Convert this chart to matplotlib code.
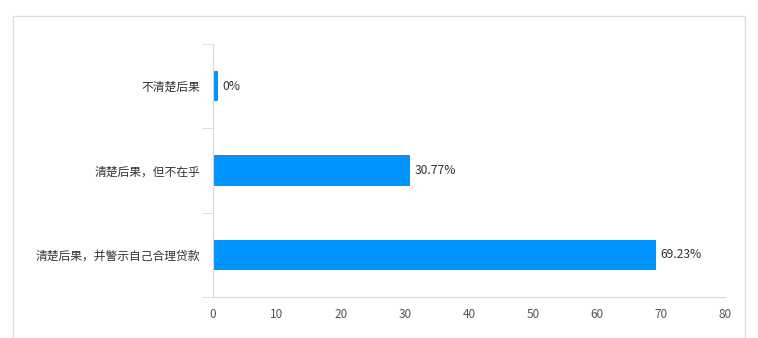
import matplotlib
matplotlib.use('Agg')
import matplotlib.pyplot as plt
from matplotlib.patches import Rectangle
import numpy as np

plt.rcParams['font.family'] = ['Noto Sans CJK SC', 'DejaVu Sans']

categories = ['清楚后果，并警示自己合理贷款', '清楚后果，但不在乎', '不清楚后果']
values = [69.23, 30.77, 0]
value_labels = ['69.23%', '30.77%', '0%']
x_ticks = [0, 10, 20, 30, 40, 50, 60, 70, 80]

bar_color = '#0094FF'
axis_color = '#D3D9E6'
min_width = 0.8  # zero bars still show a thin sliver

fig = plt.figure(figsize=(7.58, 3.38), dpi=100)
fig.patches.append(Rectangle((13 / 758, -0.1), 732 / 758, 1.1 - 16 / 338,
                             transform=fig.transFigure, fill=False,
                             edgecolor='#DDDDDD', lw=1))

ax = fig.add_axes([213 / 758, 1 - 297 / 338, 512 / 758, 253 / 338])
y = np.arange(len(categories))
ax.barh(y, np.maximum(values, min_width), height=0.36, color=bar_color)

for yi, v, lab in zip(y, values, value_labels):
    ax.text(max(v, min_width) + 0.7, yi, lab, va='center', ha='left',
            fontsize=8.7, color='#333333')

ax.set_xlim(0, 80)
ax.set_ylim(-0.5, len(categories) - 0.5)
ax.set_xticks(x_ticks)
ax.set_yticks(y)
ax.set_yticklabels(categories)
ax.set_yticks(np.arange(-0.5, len(categories)), minor=True)

for s in ['top', 'right']:
    ax.spines[s].set_visible(False)
for s in ['left', 'bottom']:
    ax.spines[s].set_color(axis_color)

ax.tick_params(axis='x', length=0, pad=8, labelsize=8.5, labelcolor='#555555')
ax.tick_params(axis='y', which='major', length=0, pad=9, labelsize=8.5,
               labelcolor='#333333')
ax.tick_params(axis='y', which='minor', length=8, color=axis_color)

fig.savefig('out.png', dpi=100)
